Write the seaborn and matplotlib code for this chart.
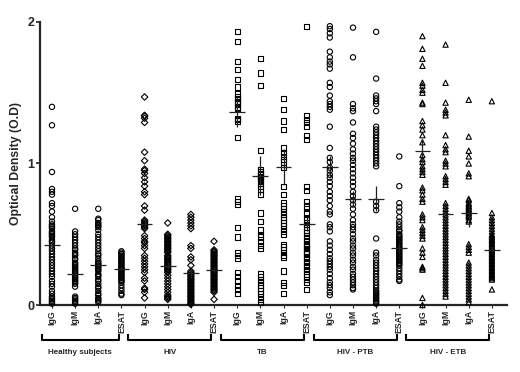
import matplotlib
matplotlib.use("Agg")
import matplotlib.pyplot as plt
import matplotlib.transforms as mtransforms
from matplotlib.collections import PathCollection
import seaborn as sns
import pandas as pd
import numpy as np

# ---------------- data ----------------
groups = ["Healthy subjects", "HIV", "TB", "HIV - PTB", "HIV - ETB"]
antigens = ["IgG", "IgM", "IgA", "ESAT"]
group_markers = ["o", "D", "s", "o", "^"]

hs_igg = [1.40, 1.27, 0.94, 0.82, 0.80, 0.78, 0.72, 0.70, 0.66, 0.62, 0.59, 0.57, 0.56, 0.55, 0.54, 0.52,
          0.51, 0.50, 0.49, 0.48, 0.46, 0.45, 0.44, 0.42, 0.40, 0.38, 0.36, 0.34, 0.32, 0.30, 0.28, 0.26,
          0.24, 0.22, 0.20, 0.17, 0.15, 0.13, 0.10, 0.08, 0.06, 0.05, 0.04, 0.03, 0.02, 0.01]
hs_igm = [0.68, 0.52, 0.50, 0.48, 0.46, 0.44, 0.42, 0.40, 0.39, 0.37, 0.36, 0.35, 0.33, 0.32, 0.30, 0.29,
          0.28, 0.27, 0.26, 0.25, 0.24, 0.23, 0.22, 0.21, 0.20, 0.19, 0.18, 0.17, 0.16, 0.15, 0.13, 0.06,
          0.05, 0.04, 0.03, 0.02, 0.01]
hs_iga = [0.68, 0.61, 0.60, 0.58, 0.57, 0.56, 0.55, 0.53, 0.50, 0.48, 0.46, 0.44, 0.42, 0.40, 0.38, 0.36,
          0.35, 0.33, 0.31, 0.30, 0.29, 0.28, 0.27, 0.26, 0.25, 0.24, 0.22, 0.21, 0.20, 0.18, 0.17, 0.15,
          0.13, 0.12, 0.10, 0.08, 0.07, 0.05, 0.04, 0.03, 0.02]
hs_esat = [0.38, 0.37, 0.36, 0.35, 0.34, 0.33, 0.32, 0.31, 0.30, 0.29, 0.28, 0.27, 0.26, 0.255, 0.25, 0.24,
           0.23, 0.22, 0.21, 0.20, 0.19, 0.18, 0.17, 0.16, 0.14, 0.12, 0.10, 0.08, 0.07]

hiv_igg = [1.47, 1.34, 1.335, 1.32, 1.29, 1.08, 1.02, 0.96, 0.95, 0.93, 0.90, 0.87, 0.84, 0.80, 0.78, 0.70,
           0.67, 0.60, 0.59, 0.58, 0.57, 0.56, 0.55, 0.54, 0.49, 0.47, 0.45, 0.44, 0.42, 0.40, 0.35, 0.33,
           0.31, 0.29, 0.27, 0.25, 0.23, 0.19, 0.17, 0.12, 0.11, 0.09, 0.05]
hiv_igm = [0.58, 0.50, 0.49, 0.48, 0.47, 0.46, 0.45, 0.44, 0.43, 0.42, 0.41, 0.40, 0.39, 0.38, 0.37, 0.35,
           0.34, 0.33, 0.32, 0.31, 0.30, 0.29, 0.28, 0.27, 0.26, 0.25, 0.24, 0.23, 0.21, 0.19, 0.17, 0.15,
           0.13, 0.11, 0.09, 0.07, 0.06, 0.05, 0.04]
hiv_iga = [0.64, 0.62, 0.60, 0.58, 0.56, 0.54, 0.42, 0.40, 0.34, 0.32, 0.28, 0.24, 0.23, 0.22, 0.21, 0.20,
           0.19, 0.18, 0.17, 0.16, 0.15, 0.14, 0.13, 0.12, 0.11, 0.10, 0.09, 0.08, 0.07, 0.06, 0.05, 0.04,
           0.03, 0.02, 0.01, 0.005]
hiv_esat = [0.45, 0.39, 0.38, 0.37, 0.36, 0.35, 0.34, 0.33, 0.32, 0.31, 0.30, 0.29, 0.28, 0.27, 0.26, 0.25,
            0.24, 0.23, 0.22, 0.21, 0.20, 0.19, 0.18, 0.17, 0.16, 0.15, 0.14, 0.13, 0.12, 0.11, 0.10, 0.09, 0.04]

tb_igg = [1.93, 1.86, 1.72, 1.665, 1.595, 1.54, 1.49, 1.47, 1.46, 1.44, 1.43, 1.42, 1.40, 1.39, 1.32, 1.31,
          1.30, 1.185, 0.75, 0.73, 0.71, 0.55, 0.48, 0.37, 0.35, 0.33, 0.23, 0.20, 0.17, 0.14, 0.11, 0.08]
tb_igm = [1.74, 1.64, 1.55, 1.09, 0.96, 0.94, 0.93, 0.92, 0.91, 0.90, 0.89, 0.88, 0.86, 0.84, 0.82, 0.78,
          0.65, 0.59, 0.53, 0.50, 0.48, 0.45, 0.42, 0.40, 0.22, 0.20, 0.18, 0.16, 0.14, 0.12, 0.10, 0.08,
          0.06, 0.04, 0.02]
tb_iga = [1.46, 1.38, 1.30, 1.24, 1.11, 1.08, 1.05, 1.03, 1.01, 0.97, 0.84, 0.78, 0.72, 0.70, 0.68, 0.66,
          0.64, 0.62, 0.60, 0.58, 0.56, 0.54, 0.52, 0.50, 0.43, 0.41, 0.39, 0.37, 0.35, 0.34, 0.24, 0.16,
          0.14, 0.08]
tb_esat = [1.97, 1.34, 1.31, 1.29, 1.26, 1.20, 1.17, 0.84, 0.81, 0.73, 0.70, 0.68, 0.65, 0.62, 0.60, 0.57,
           0.55, 0.53, 0.51, 0.49, 0.47, 0.45, 0.43, 0.42, 0.41, 0.40, 0.38, 0.37, 0.36, 0.34, 0.33, 0.31,
           0.30, 0.28, 0.27, 0.25, 0.24, 0.22, 0.20, 0.18, 0.16, 0.11]

ptb_igg = [1.97, 1.95, 1.92, 1.89, 1.79, 1.75, 1.72, 1.70, 1.67, 1.57, 1.54, 1.48, 1.44, 1.42, 1.40, 1.38,
           1.26, 1.11, 1.04, 1.01, 0.97, 0.95, 0.92, 0.90, 0.87, 0.84, 0.80, 0.77, 0.74, 0.70, 0.66, 0.64,
           0.57, 0.55, 0.52, 0.45, 0.42, 0.39, 0.36, 0.33, 0.31, 0.29, 0.27, 0.25, 0.22, 0.19, 0.16, 0.14,
           0.12, 0.09, 0.07]
ptb_igm = [1.96, 1.75, 1.42, 1.39, 1.37, 1.29, 1.21, 1.18, 1.14, 1.10, 1.07, 1.04, 1.02, 0.99, 0.96, 0.93,
           0.90, 0.87, 0.84, 0.80, 0.77, 0.74, 0.71, 0.68, 0.64, 0.60, 0.57, 0.55, 0.53, 0.50, 0.47, 0.45,
           0.42, 0.40, 0.37, 0.35, 0.32, 0.30, 0.27, 0.25, 0.22, 0.20, 0.18, 0.16, 0.14, 0.12, 0.11]
ptb_iga = [1.93, 1.60, 1.48, 1.46, 1.44, 1.42, 1.37, 1.26, 1.24, 1.22, 1.20, 1.18, 1.16, 1.14, 1.12, 1.10,
           1.08, 1.06, 1.04, 1.02, 1.00, 0.98, 0.73, 0.70, 0.67, 0.47, 0.37, 0.35, 0.32, 0.30, 0.28, 0.26,
           0.24, 0.22, 0.20, 0.18, 0.16, 0.14, 0.12, 0.10, 0.09, 0.08, 0.07, 0.06, 0.05, 0.04, 0.03, 0.02, 0.01]
ptb_esat = [1.05, 0.84, 0.72, 0.69, 0.66, 0.62, 0.59, 0.57, 0.55, 0.53, 0.52, 0.50, 0.49, 0.48, 0.47, 0.46,
            0.45, 0.44, 0.43, 0.42, 0.41, 0.40, 0.39, 0.38, 0.37, 0.36, 0.35, 0.34, 0.33, 0.32, 0.31, 0.30,
            0.29, 0.28, 0.26, 0.24, 0.22, 0.20, 0.18, 0.17]

etb_igg = [1.90, 1.81, 1.74, 1.69, 1.57, 1.55, 1.52, 1.50, 1.43, 1.42, 1.30, 1.27, 1.24, 1.20, 1.15, 1.06,
           1.03, 1.01, 0.98, 0.96, 0.94, 0.92, 0.83, 0.81, 0.78, 0.75, 0.73, 0.64, 0.62, 0.60, 0.55, 0.53,
           0.51, 0.49, 0.47, 0.40, 0.37, 0.34, 0.27, 0.26, 0.25, 0.05, 0.0]
etb_igm = [1.84, 1.57, 1.43, 1.38, 1.36, 1.34, 1.20, 1.13, 1.10, 1.08, 1.02, 1.00, 0.98, 0.91, 0.89, 0.87,
           0.85, 0.72, 0.70, 0.68, 0.66, 0.64, 0.62, 0.60, 0.58, 0.56, 0.54, 0.52, 0.50, 0.48, 0.46, 0.44,
           0.42, 0.40, 0.38, 0.36, 0.34, 0.32, 0.30, 0.28, 0.26, 0.24, 0.22, 0.20, 0.18, 0.16, 0.14, 0.12,
           0.10, 0.08, 0.06]
etb_iga = [1.45, 1.19, 1.09, 1.05, 1.00, 0.93, 0.91, 0.75, 0.74, 0.72, 0.71, 0.70, 0.69, 0.68, 0.67, 0.66,
           0.65, 0.64, 0.63, 0.62, 0.60, 0.59, 0.43, 0.41, 0.39, 0.37, 0.30, 0.28, 0.26, 0.24, 0.22, 0.20,
           0.18, 0.16, 0.14, 0.12, 0.10, 0.08, 0.06, 0.04, 0.02]
etb_esat = [1.44, 0.65, 0.62, 0.60, 0.58, 0.56, 0.54, 0.52, 0.50, 0.49, 0.48, 0.47, 0.46, 0.45, 0.44, 0.43,
            0.42, 0.41, 0.40, 0.39, 0.38, 0.37, 0.36, 0.35, 0.34, 0.33, 0.32, 0.31, 0.30, 0.29, 0.28, 0.27,
            0.26, 0.25, 0.24, 0.23, 0.22, 0.21, 0.20, 0.19, 0.18, 0.11]

series = [hs_igg, hs_igm, hs_iga, hs_esat,
          hiv_igg, hiv_igm, hiv_iga, hiv_esat,
          tb_igg, tb_igm, tb_iga, tb_esat,
          ptb_igg, ptb_igm, ptb_iga, ptb_esat,
          etb_igg, etb_igm, etb_iga, etb_esat]

# mean and SEM as drawn on the figure
means = [0.425, 0.222, 0.285, 0.257, 0.570, 0.278, 0.224, 0.248, 1.366, 0.915,
         0.975, 0.570, 0.978, 0.752, 0.752, 0.400, 1.090, 0.641, 0.648, 0.390]
sems = [0.04, 0.025, 0.03, 0.015, 0.04, 0.025, 0.03, 0.02, 0.11, 0.14,
        0.13, 0.05, 0.075, 0.055, 0.09, 0.03, 0.08, 0.04, 0.10, 0.025]

# ---------------- build table ----------------
col_keys = [f"{g}|{a}" for g in groups for a in antigens]
rows = []
for key, vals in zip(col_keys, series):
    g = key.split("|")[0]
    for v in vals:
        rows.append({"col": key, "group": g, "od": v})
df = pd.DataFrame(rows)

# ---------------- plot ----------------
sns.set_style("ticks")
plt.rcParams["font.family"] = ["Liberation Sans", "DejaVu Sans"]
plt.rcParams["font.weight"] = "bold"

fig = plt.figure(figsize=(5.2, 3.72), dpi=100)
ax = fig.add_axes([0.0769, 0.18, 0.898, 0.761])

for g, m in zip(groups, group_markers):
    sub = df[df["group"] == g]
    msize = 3.3 if m == "D" else 3.8
    sns.stripplot(data=sub, x="col", y="od", order=col_keys, jitter=False,
                  marker=m, size=msize, color="black", linewidth=0.8, ax=ax)

for coll in ax.collections:
    if isinstance(coll, PathCollection):
        coll.set_facecolor("none")
        coll.set_edgecolor("black")
        coll.set_linewidth(0.8)
        if len(coll.get_offsets()) > 0:
            coll.set_clip_on(False)

pos = np.arange(len(col_keys))
ax.hlines(means, pos - 0.34, pos + 0.34, color="#222222", lw=0.9, zorder=5)
ax.vlines(pos, np.array(means) - np.array(sems), np.array(means) + np.array(sems),
          color="#222222", lw=0.9, zorder=5)

ax.set_ylim(0, 2)
ax.set_xlim(-0.517, 19.65)
ax.set_yticks([0, 1, 2])
ax.set_yticklabels(["0", "1", "2"], fontsize=9, fontweight="bold")
ax.set_xticks(pos)
ax.set_xticklabels(antigens * len(groups), rotation=90, fontsize=6.3, fontweight="bold")
ax.tick_params(axis="y", length=3, width=1.2, pad=1, direction="out")
ax.tick_params(axis="x", length=2, width=0.8, pad=1.5, direction="out")
ax.set_xlabel("")
ax.set_ylabel("Optical Density (O.D)", fontsize=8.8, fontweight="bold", labelpad=4)

sns.despine(ax=ax)
ax.spines["left"].set_linewidth(1.6)
ax.spines["bottom"].set_linewidth(1.6)

# group brackets
trans = mtransforms.blended_transform_factory(ax.transData, ax.transAxes)
for i, g in enumerate(groups):
    x0 = max(4 * i - 0.7, -0.45)
    x1 = 4 * i + 3 - 0.12
    y_line = -0.124
    y_tip = -0.104
    ax.plot([x0, x0, x1, x1], [y_tip, y_line, y_line, y_tip], color="black",
            lw=1.5, transform=trans, clip_on=False, solid_capstyle="butt")
    ax.text((x0 + x1) / 2, -0.166, g, transform=trans, ha="center", va="center",
            fontsize=5.8, fontweight="bold")

fig.savefig("out.png", dpi=100, facecolor="white")
